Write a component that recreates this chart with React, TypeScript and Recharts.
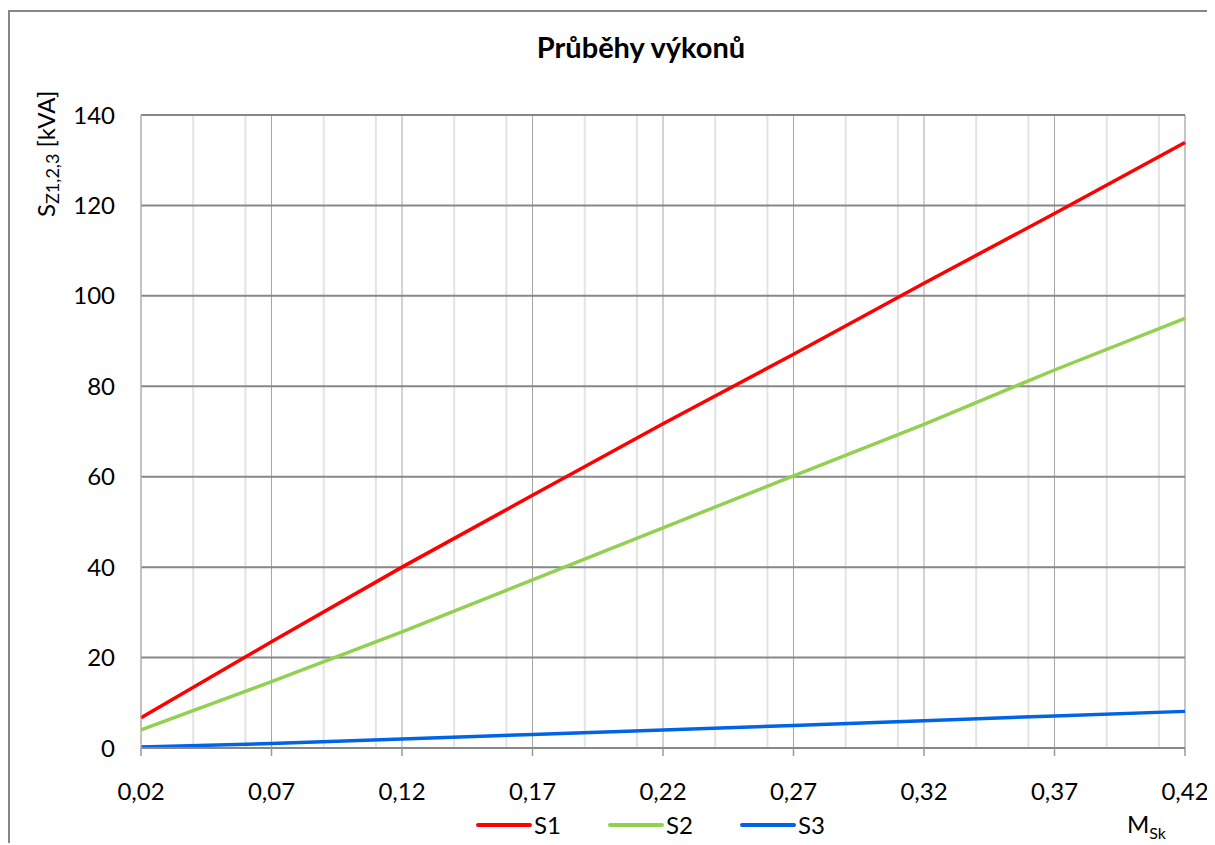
import { LineChart, Line, XAxis, YAxis, CartesianGrid, Legend } from "recharts";

const FONT = "Lato, 'Open Sans', sans-serif";

// M_Sk values (x) and the three power curves in kVA
const msk = [0.02, 0.07, 0.12, 0.17, 0.22, 0.27, 0.32, 0.37, 0.42];
const s1 = [6.7, 23.5, 40, 55.9, 71.7, 87.1, 102.8, 118.2, 133.9];
const s2 = [4.0, 14.7, 25.7, 37.2, 48.7, 60.2, 71.6, 83.6, 95.0];
const s3 = [0.2, 1.0, 2.0, 3.0, 4.0, 5.0, 6.0, 7.1, 8.1];

const xTicks = [0.02, 0.07, 0.12, 0.17, 0.22, 0.27, 0.32, 0.37, 0.42];
// grid lines (the left edge at 0.02 has no grid line, only the dashed axis)
const xMajorGrid = [0.07, 0.12, 0.17, 0.22, 0.27, 0.32, 0.37, 0.42];
const xMinorGrid = [
  0.03, 0.04, 0.05, 0.06, 0.08, 0.09, 0.1, 0.11, 0.13, 0.14, 0.15, 0.16, 0.18,
  0.19, 0.2, 0.21, 0.23, 0.24, 0.25, 0.26, 0.28, 0.29, 0.3, 0.31, 0.33, 0.34,
  0.35, 0.36, 0.38, 0.39, 0.4, 0.41,
];
const yTicks = [0, 20, 40, 60, 80, 100, 120, 140];
const yMinorTicks = [
  4, 8, 12, 16, 24, 28, 32, 36, 44, 48, 52, 56, 64, 68, 72, 76, 84, 88, 92, 96,
  104, 108, 112, 116, 124, 128, 132, 136,
];

const seriesNames = ["S1", "S2", "S3"];
const seriesColors = ["#ff0000", "#92d050", "#0064e6"];

const data = msk.map((x, i) => ({ x, S1: s1[i], S2: s2[i], S3: s3[i] }));

const fmt = (v: number) => v.toFixed(2).replace(".", ",");

function LegendContent({ payload }: any) {
  return (
    <div style={{ display: "flex", fontFamily: FONT, fontSize: 24, color: "#000" }}>
      {(payload || []).map((p: any) => (
        <div key={p.value} style={{ display: "flex", alignItems: "center", width: 132 }}>
          <svg width={56} height={10}>
            <line x1={2} y1={5} x2={54} y2={5} stroke={p.color} strokeWidth={4} strokeLinecap="round" />
          </svg>
          <span style={{ marginLeft: 2 }}>{p.value}</span>
        </div>
      ))}
    </div>
  );
}

export default function App() {
  return (
    <div
      style={{
        position: "relative",
        top: 2,
        width: 1207,
        height: 835,
        borderTop: "2px solid #868686",
        borderLeft: "2px solid #868686",
        boxSizing: "border-box",
        overflow: "hidden",
        background: "#fff",
      }}
    >
      <LineChart
        width={1205}
        height={833}
        data={data}
        margin={{ top: 103, right: 30, left: 71, bottom: 67 }}
        style={{ fontFamily: FONT }}
      >
        <XAxis xAxisId="minor" dataKey="x" type="number" domain={[0.02, 0.42]} ticks={xMinorGrid} hide />
        <XAxis xAxisId="major" dataKey="x" type="number" domain={[0.02, 0.42]} ticks={xMajorGrid} hide />
        <CartesianGrid xAxisId="minor" horizontal={false} stroke="#e3e3e3" strokeWidth={2} />
        <CartesianGrid xAxisId="major" horizontal={false} stroke="#a6a6a6" strokeWidth={1} />
        <CartesianGrid vertical={false} stroke="#878787" strokeWidth={2} />

        <XAxis
          dataKey="x"
          type="number"
          domain={[0.02, 0.42]}
          ticks={xTicks}
          tickFormatter={fmt}
          interval={0}
          height={30}
          axisLine={{ stroke: "#878787", strokeWidth: 2 }}
          tickLine={{ stroke: "#999", strokeWidth: 1.5 }}
          tickSize={8}
          tickMargin={27}
          tick={{ fontSize: 24, fill: "#000", fontFamily: FONT }}
        />
        <YAxis
          yAxisId="minor"
          type="number"
          domain={[0, 140]}
          ticks={yMinorTicks}
          interval={0}
          width={0}
          mirror
          axisLine={false}
          tick={false}
          tickLine={{ stroke: "#aaa" }}
          tickSize={3}
        />
        <YAxis
          yAxisId={0}
          type="number"
          domain={[0, 140]}
          ticks={yTicks}
          interval={0}
          width={60}
          axisLine={{ stroke: "#bdbdbd", strokeDasharray: "3 2" }}
          tickLine={false}
          tickSize={6}
          tickMargin={20}
          tick={{ fontSize: 24, fill: "#000", fontFamily: FONT }}
        />

        {seriesNames.map((name, i) => (
          <Line
            key={name}
            yAxisId={0}
            type="linear"
            dataKey={name}
            name={name}
            stroke={seriesColors[i]}
            strokeWidth={3.5}
            dot={false}
            activeDot={false}
            isAnimationActive={false}
          />
        ))}

        <Legend
          layout="horizontal"
          verticalAlign="middle"
          align="center"
          content={<LegendContent />}
          wrapperStyle={{ left: 466, top: 798, width: "auto" }}
        />

        <text x={631} y={46} textAnchor="middle" fontSize={29} fontWeight="bold" fill="#000" fontFamily={FONT}>
          Průběhy výkonů
        </text>
        <text x={45} y={205} transform="rotate(-90 45 205)" fontSize={24} fill="#000" fontFamily={FONT}>
          S
          <tspan dy={4} fontSize={18}>Z1,2,3</tspan>
          <tspan dy={-4}> [kVA]</tspan>
        </text>
        <text x={1117} y={821} fontSize={24} fill="#000" fontFamily={FONT}>
          M
          <tspan dy={6} fontSize={16}>Sk</tspan>
        </text>
      </LineChart>
    </div>
  );
}
